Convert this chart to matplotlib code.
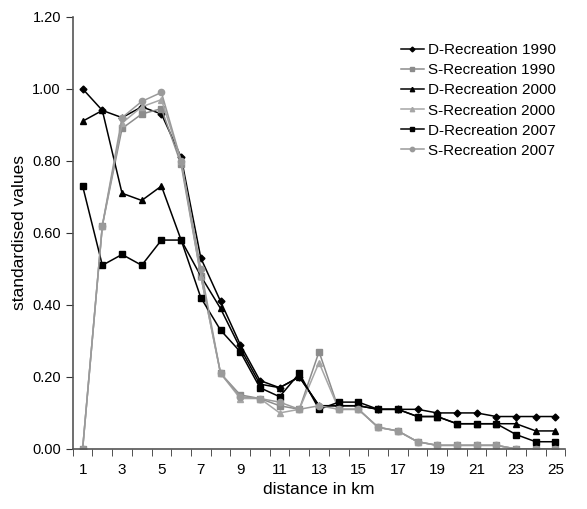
import matplotlib.pyplot as plt
from matplotlib.ticker import FormatStrFormatter

plt.rcParams['font.family'] = ['Liberation Sans', 'DejaVu Sans']

distance = list(range(1, 26))

d_rec_1990 = [1.00, 0.94, 0.92, 0.95, 0.93, 0.81, 0.53, 0.41, 0.29, 0.19,
              0.17, 0.20, 0.12, 0.12, 0.12, 0.11, 0.11, 0.11, 0.10, 0.10,
              0.10, 0.09, 0.09, 0.09, 0.09]
s_rec_1990 = [0.00, 0.62, 0.89, 0.93, 0.945, 0.79, 0.48, 0.21, 0.15, 0.14,
              0.12, 0.11, 0.27, 0.11, 0.11, 0.06, 0.05, 0.02, 0.01, 0.01,
              0.01, 0.01, 0.00, 0.00, 0.00]
d_rec_2000 = [0.91, 0.94, 0.71, 0.69, 0.73, 0.58, 0.48, 0.39, 0.28, 0.18,
              0.17, 0.20, 0.12, 0.12, 0.12, 0.11, 0.11, 0.09, 0.09, 0.07,
              0.07, 0.07, 0.07, 0.05, 0.05]
s_rec_2000 = [0.00, 0.62, 0.905, 0.95, 0.97, 0.80, 0.48, 0.21, 0.14, 0.14,
              0.10, 0.11, 0.24, 0.11, 0.11, 0.06, 0.05, 0.02, 0.01, 0.01,
              0.01, 0.01, 0.00, 0.00, 0.00]
d_rec_2007 = [0.73, 0.51, 0.54, 0.51, 0.58, 0.58, 0.42, 0.33, 0.27, 0.17,
              0.145, 0.21, 0.11, 0.13, 0.13, 0.11, 0.11, 0.09, 0.09, 0.07,
              0.07, 0.07, 0.04, 0.02, 0.02]
s_rec_2007 = [0.00, 0.62, 0.92, 0.965, 0.99, 0.80, 0.50, 0.21, 0.145, 0.14,
              0.13, 0.11, 0.12, 0.11, 0.11, 0.06, 0.05, 0.02, 0.01, 0.01,
              0.01, 0.01, 0.00, 0.00, 0.00]

series = [
    ("D-Recreation 1990", d_rec_1990, "black", "D"),
    ("S-Recreation 1990", s_rec_1990, "#8c8c8c", "s"),
    ("D-Recreation 2000", d_rec_2000, "black", "^"),
    ("S-Recreation 2000", s_rec_2000, "#a6a6a6", "^"),
    ("D-Recreation 2007", d_rec_2007, "black", "s"),
    ("S-Recreation 2007", s_rec_2007, "#9a9a9a", "o"),
]

fig = plt.figure(figsize=(5.87, 5.09), dpi=100)
ax = fig.add_axes([0.124, 0.118, 0.839, 0.849])

for name, vals, col, mk in series:
    ms = 3.5 if mk == "D" else 4.5
    ax.plot(distance, vals, color=col, marker=mk, markersize=ms,
            linewidth=1.1, label=name)

ax.set_xlim(0.5, 25.5)
ax.set_ylim(0, 1.2)
ax.set_yticks([0, 0.2, 0.4, 0.6, 0.8, 1.0, 1.2])
ax.yaxis.set_major_formatter(FormatStrFormatter('%.2f'))
ax.set_xticks(list(range(1, 26, 2)))
ax.set_xticks([x + 0.5 for x in range(0, 26)], minor=True)
ax.tick_params(axis='x', which='major', length=0, pad=10, labelsize=11)
ax.tick_params(axis='x', which='minor', length=5, direction='out', color='#333333')
ax.tick_params(axis='y', length=5, direction='out', labelsize=10.5, color='#333333')

for s in ['top', 'right']:
    ax.spines[s].set_visible(False)
for s in ['left', 'bottom']:
    ax.spines[s].set_color('#555555')
    ax.spines[s].set_linewidth(1.2)

ax.set_xlabel("distance in km", fontsize=12.5, labelpad=4)
ax.set_ylabel("standardised values", fontsize=12.5)

ax.legend(loc='upper right', bbox_to_anchor=(1.0, 0.96), frameon=False,
          fontsize=11, handlelength=1.5, handletextpad=0.3, markerscale=0.7,
          labelspacing=0.4, borderaxespad=0.2)

plt.savefig('out.png', dpi=100)
